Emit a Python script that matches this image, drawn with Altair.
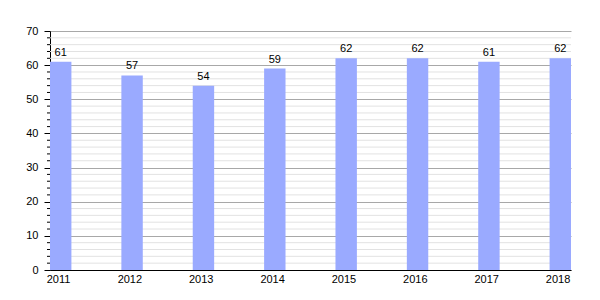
import altair as alt
import pandas as pd

years = [2011, 2012, 2013, 2014, 2015, 2016, 2017, 2018]
values = [61, 57, 54, 59, 62, 62, 61, 62]
major_ticks = [0, 10, 20, 30, 40, 50, 60, 70]
minor_ticks = [v for v in range(0, 71, 2) if v % 10 != 0]

df = pd.DataFrame({"year": years, "value": values})
minor_df = pd.DataFrame({"v": minor_ticks})

FONT = "Liberation Sans"

x_scale = alt.Scale(domain=[2011, 2018.3], nice=False, zero=False)
y_scale = alt.Scale(domain=[0, 70], nice=False)

x_axis = alt.Axis(
    title=None,
    values=years,
    format="d",
    grid=False,
    ticks=False,
    domainColor="#000000",
    labelOffset=8,
    labelPadding=3,
    labelFlush=False,
    labelFont=FONT,
    labelFontSize=11,
    labelColor="#000000",
)
y_axis = alt.Axis(
    title=None,
    values=major_ticks,
    format="d",
    gridColor="#a8a8a8",
    tickSize=6,
    tickColor="#000000",
    domainColor="#000000",
    labelPadding=6,
    labelFont=FONT,
    labelFontSize=11,
    labelColor="#000000",
)

minor_grid = alt.Chart(minor_df).mark_rule(color="#e2e2e2", strokeWidth=1).encode(
    y=alt.Y("v:Q", scale=y_scale, axis=y_axis),
    x=alt.value(0),
    x2=alt.value(521),
)

minor_tick_marks = alt.Chart(minor_df).mark_rule(color="#000000", strokeWidth=1).encode(
    y=alt.Y("v:Q", scale=y_scale, axis=y_axis),
    x=alt.value(-3),
    x2=alt.value(0),
)

base = alt.Chart(df).transform_calculate(
    year_end="datum.year + 0.3", mid="datum.year + 0.15", zero="0"
)

bars = base.mark_rect(color="#9aaaff").encode(
    x=alt.X("year:Q", scale=x_scale, axis=x_axis),
    x2="year_end:Q",
    y=alt.Y("value:Q", scale=y_scale, axis=y_axis),
    y2=alt.Y2("zero:Q"),
)

labels = base.mark_text(
    baseline="bottom", dy=-4, font=FONT, fontSize=11, color="#000000"
).encode(
    x=alt.X("mid:Q", scale=x_scale, axis=x_axis),
    y=alt.Y("value:Q", scale=y_scale, axis=y_axis),
    text="value:Q",
)

chart = (
    alt.layer(minor_grid, bars, labels, minor_tick_marks)
    .properties(
        width=521,
        height=239,
        autosize=alt.AutoSizeParams(type="none"),
        padding={"left": 50, "top": 31, "right": 29, "bottom": 30},
        background="#ffffff",
    )
    .configure_view(stroke=None)
)

chart.save("out.html", embed_options={"renderer": "svg", "actions": False})
